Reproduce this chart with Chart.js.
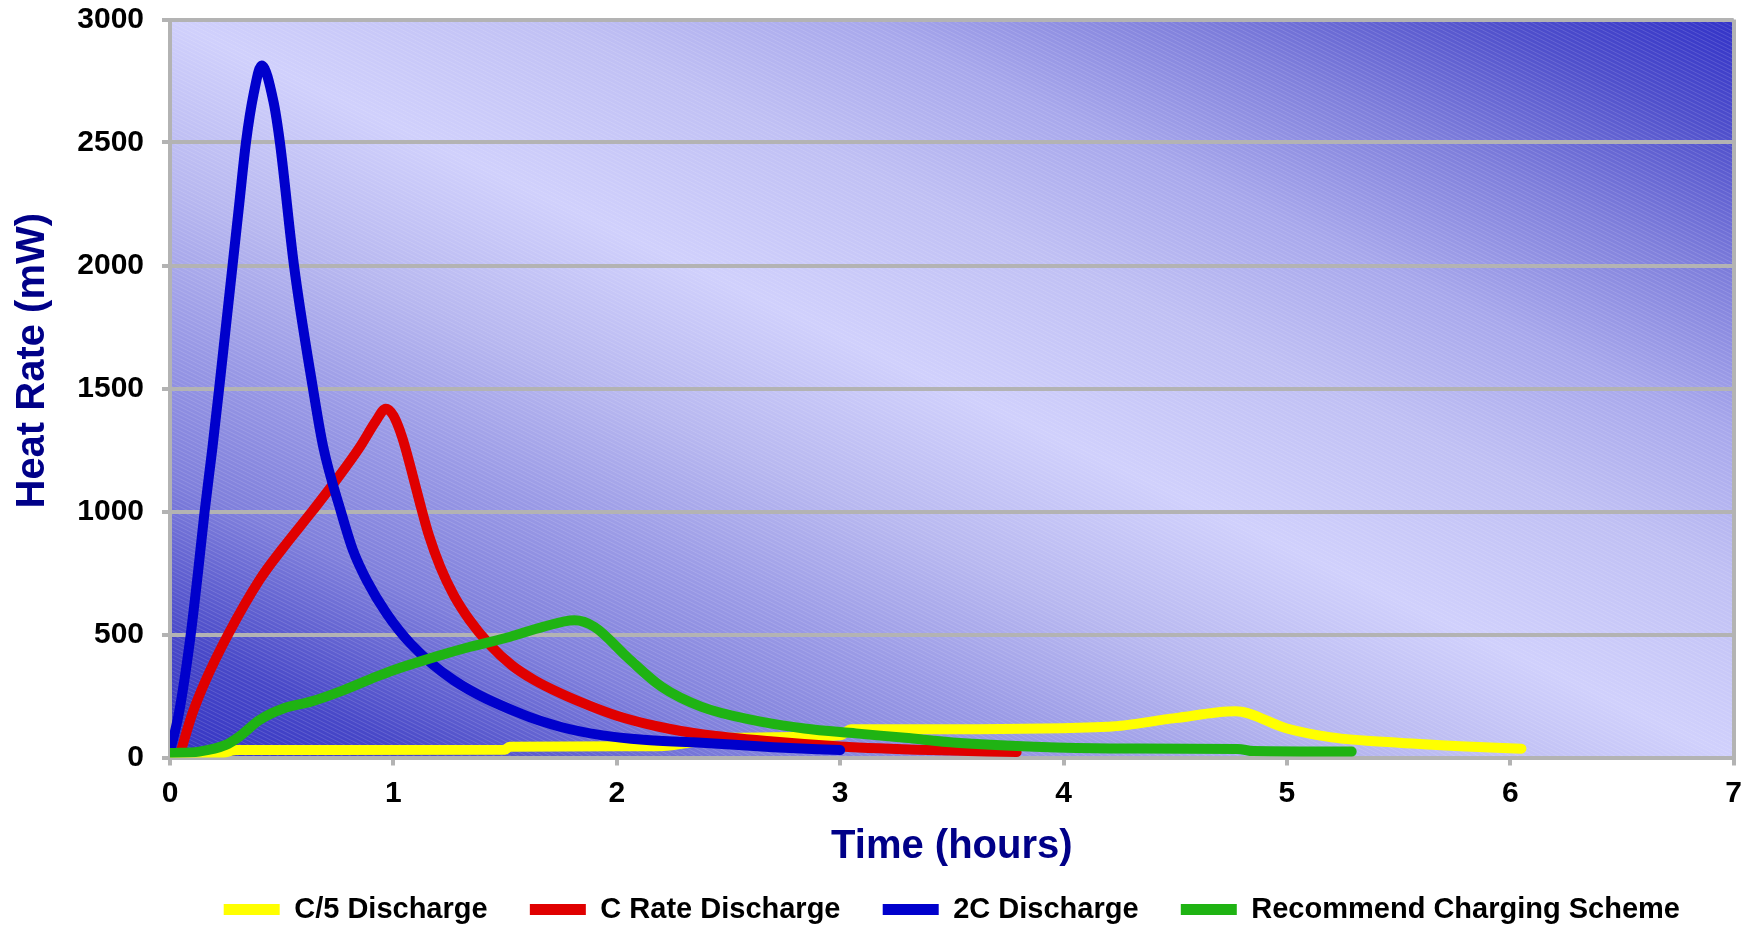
<!DOCTYPE html>
<html>
<head>
<meta charset="utf-8">
<title>Heat Rate</title>
<script src="https://cdn.jsdelivr.net/npm/chart.js@4/dist/chart.umd.min.js"></script>
<style>
  html, body { margin: 0; padding: 0; background: #fff; }
  #wrap { width: 1752px; height: 927px; }
</style>
</head>
<body>
<div id="wrap"><canvas id="myChart" width="1752" height="927"></canvas></div>
<script>
// values (hours, mW)
const c5Time = [0, 0.2, 0.3, 1.5, 1.52, 2.18, 2.5, 3.0, 3.05, 3.5, 4.2, 4.5, 4.77, 5.0, 5.2, 5.5, 5.8, 6.05];
const c5Heat = [10, 12, 30, 32, 44, 46, 80, 90, 115, 115, 125, 160, 188, 118, 82, 60, 45, 36];

const cTime = [0.05, 0.10, 0.16, 0.26, 0.40, 0.50, 0.64, 0.75, 0.85, 0.92, 0.966, 1.0, 1.04, 1.08, 1.12, 1.16, 1.21, 1.27, 1.34, 1.43, 1.53, 1.63, 1.75, 1.88, 2.0, 2.19, 2.38, 2.7, 3.0, 3.4, 3.79];
const cHeat = [30, 178, 314, 500, 721, 845, 1005, 1135, 1262, 1365, 1418, 1390, 1300, 1170, 1030, 900, 775, 660, 560, 460, 375, 315, 260, 210, 170, 125, 95, 65, 45, 30, 22];

const c2Time = [0, 0.04, 0.09, 0.125, 0.155, 0.19, 0.22, 0.25, 0.28, 0.31, 0.34, 0.375, 0.41, 0.463, 0.492, 0.555, 0.64, 0.686, 0.765, 0.82, 0.88, 0.97, 1.08, 1.27, 1.57, 1.75, 1.93, 2.12, 2.38, 2.7, 3.0];
const c2Heat = [25, 180, 480, 750, 1000, 1260, 1500, 1750, 2000, 2250, 2500, 2700, 2813, 2667, 2500, 2000, 1500, 1262, 1000, 840, 721, 585, 460, 314, 178, 124, 91, 72, 60, 42, 30];

const rcTime = [0, 0.13, 0.25, 0.31, 0.40, 0.51, 0.63, 0.76, 0.90, 1.0, 1.19, 1.34, 1.52, 1.67, 1.81, 1.90, 2.05, 2.20, 2.38, 2.61, 2.84, 3.07, 3.29, 3.52, 3.87, 4.21, 4.78, 4.85, 5.29];
const rcHeat = [18, 24, 51, 85, 152, 200, 227, 268, 320, 355, 410, 449, 490, 531, 558, 531, 405, 288, 206, 152, 118, 98, 80, 60, 44, 37, 35, 26, 24];

const seriesNames = ['C/5 Discharge', 'C Rate Discharge', '2C Discharge', 'Recommend Charging Scheme'];
const seriesColors = ['#ffff00', '#e00000', '#0000cc', '#1fb313'];

const gray = '#b3b3b3';
const navy = '#000088';
const fontName = "'Liberation Sans', Arial, sans-serif";

function toPoints(xs, ys) {
  return xs.map((x, i) => ({ x: x, y: ys[i] }));
}

function makeSet(i, xs, ys) {
  return {
    label: seriesNames[i],
    data: toPoints(xs, ys),
    borderColor: seriesColors[i],
    backgroundColor: seriesColors[i],
    borderWidth: 10,
    borderCapStyle: 'round',
    borderJoinStyle: 'round',
    pointRadius: 0,
    cubicInterpolationMode: 'monotone',
    order: 4 - i, // excel draws the last series on top
  };
}

// gradient + fine hatch behind the plot
const plotBackground = {
  id: 'plotBackground',
  beforeDraw(chart) {
    const ctx = chart.ctx;
    const a = chart.chartArea;
    const w = a.right - a.left, h = a.bottom - a.top;
    const cx = a.left + w / 2, cy = a.top + h / 2;
    const L = Math.sqrt(w * w + h * h);
    const ux = h / L, uy = -w / L;
    const d = w * h / L;
    const g = ctx.createLinearGradient(cx - ux * d, cy - uy * d, cx + ux * d, cy + uy * d);
    g.addColorStop(0, '#3434c4');
    g.addColorStop(0.08, '#4848c8');
    g.addColorStop(0.19, '#8080dc');
    g.addColorStop(0.29, '#9a9ae6');
    g.addColorStop(0.39, '#b8b8f0');
    g.addColorStop(0.5, '#d0d0fc');
    g.addColorStop(0.62, '#c0c0f4');
    g.addColorStop(0.72, '#a8a8ec');
    g.addColorStop(0.82, '#8080dc');
    g.addColorStop(0.92, '#5050cc');
    g.addColorStop(1, '#3333c8');
    ctx.save();
    ctx.fillStyle = g;
    ctx.fillRect(a.left, a.top, w, h);
    ctx.beginPath();
    ctx.rect(a.left, a.top, w, h);
    ctx.clip();
    ctx.strokeStyle = 'rgba(255,255,255,0.14)';
    ctx.lineWidth = 1;
    ctx.beginPath();
    for (let y = a.top - w * 0.5; y < a.bottom; y += 4) {
      ctx.moveTo(a.left, y);
      ctx.lineTo(a.right, y + w * 0.5);
    }
    ctx.stroke();
    ctx.restore();
  }
};

const config = {
  type: 'line',
  data: {
    datasets: [
      makeSet(0, c5Time, c5Heat),
      makeSet(1, cTime, cHeat),
      makeSet(2, c2Time, c2Heat),
      makeSet(3, rcTime, rcHeat),
    ]
  },
  options: {
    responsive: false,
    animation: false,
    devicePixelRatio: 1,
    layout: { padding: { left: 0, right: 18, top: 19, bottom: -7 } },
    plugins: {
      tooltip: { enabled: false },
      legend: {
        position: 'bottom',
        fullSize: false,
        labels: {
          boxWidth: 56,
          boxHeight: 11,
          padding: 10,
          color: '#000',
          font: { family: fontName, size: 29, weight: 'bold' },
          generateLabels: function(chart) {
            const items = Chart.defaults.plugins.legend.labels.generateLabels(chart);
            items.sort((a, b) => a.datasetIndex - b.datasetIndex);
            items.forEach((item, i) => {
              item.lineWidth = 0;
              if (i < items.length - 1) item.text += '    ';
            });
            return items;
          }
        }
      }
    },
    scales: {
      x: {
        type: 'linear',
        min: 0,
        max: 7,
        afterFit: function(s) { s.height = 127.5; },
        ticks: {
          stepSize: 1,
          color: '#000',
          padding: 10,
          maxRotation: 0,
          font: { family: fontName, size: 30, weight: 'bold' },
          callback: v => String(v)
        },
        grid: {
          color: c => (c.tick && c.tick.value === 7) ? gray : 'rgba(0,0,0,0)',
          tickColor: gray,
          lineWidth: 4,
          tickLength: 8
        },
        border: { color: gray, width: 4 },
        title: {
          display: true,
          text: 'Time (hours)',
          color: navy,
          font: { family: fontName, size: 40, weight: 'bold' },
          padding: { top: 0, bottom: 14 }
        }
      },
      y: {
        min: 0,
        max: 3000,
        afterFit: function(s) { s.width = 170; },
        ticks: {
          stepSize: 500,
          color: '#000',
          padding: 18,
          font: { family: fontName, size: 30, weight: 'bold', lineHeight: 0.1 },
          callback: v => String(v)
        },
        grid: {
          color: gray,
          tickColor: gray,
          lineWidth: 4,
          tickLength: 8
        },
        border: { color: gray, width: 4 },
        title: {
          display: true,
          text: '     Heat Rate (mW)',
          color: navy,
          font: { family: fontName, size: 40, weight: 'bold' },
          padding: { top: 9, bottom: 0 }
        }
      }
    }
  },
  plugins: [plotBackground]
};

const myChart = new Chart(document.getElementById('myChart'), config);
</script>
</body>
</html>
